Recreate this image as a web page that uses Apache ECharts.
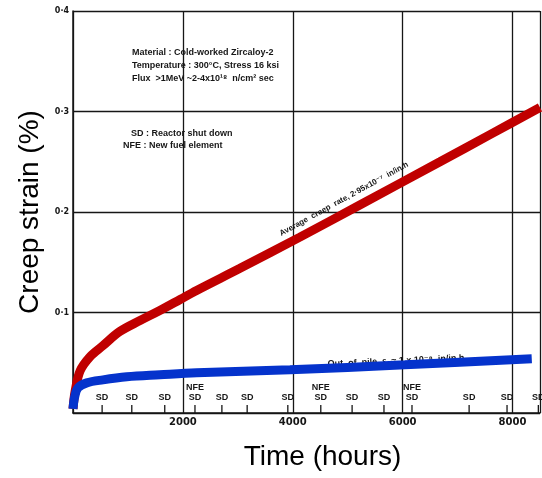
<!DOCTYPE html>
<html>
<head>
<meta charset="utf-8">
<script src="https://cdn.jsdelivr.net/npm/echarts@6/dist/echarts.min.js"></script>
<style>
  html, body { margin: 0; padding: 0; background: #fff; }
  #chart { width: 542px; height: 478px; }
</style>
</head>
<body>
<div id="chart"></div>
<script>
// irradiation creep (hours, % strain)
var inPileCreep = [
  [0, 0.004], [40, 0.022], [130, 0.042], [310, 0.056], [545, 0.067],
  [850, 0.081], [1220, 0.092], [1580, 0.102], [1950, 0.113], [2250, 0.122],
  [3040, 0.144], [4130, 0.175], [5220, 0.207], [6680, 0.250], [7590, 0.277],
  [8500, 0.304]
];
var outOfPileCreep = [
  [0, 0.004], [30, 0.016], [90, 0.025], [250, 0.030], [545, 0.033],
  [980, 0.036], [1580, 0.038], [2250, 0.040], [3950, 0.043], [6040, 0.048],
  [8350, 0.054]
];
// reactor events along the time axis
var sdHours = [530, 1070, 1670, 2220, 2710, 3170, 3910, 4510, 5080, 5660, 6170, 7210, 7900, 8470];
var nfeHours = [2220, 4510, 6170];

var xTicks = [2000, 4000, 6000, 8000];
var yTicks = [0.1, 0.2, 0.3, 0.4];

var ink = '#161616';
var noteFont = 'bold 9px "Liberation Sans", "DejaVu Sans", sans-serif';

var myChart = echarts.init(document.getElementById('chart'));

var option = {
  animation: false,
  backgroundColor: '#fff',
  grid: {
    left: 73, right: 2, top: 11, bottom: 65,
    outerBoundsMode: 'none'
  },
  xAxis: {
    type: 'value',
    min: 0, max: 8500, interval: 2000,
    name: 'Time (hours)',
    nameLocation: 'middle',
    nameGap: 30,
    nameTextStyle: {
      fontFamily: 'Liberation Sans, Arial, sans-serif',
      fontSize: 28, color: '#000',
      padding: [0, 0, 0, 32]
    },
    axisLine: { show: true, lineStyle: { color: ink, width: 1.5 } },
    axisTick: { show: false },
    axisLabel: {
      margin: 4,
      color: ink,
      fontFamily: 'DejaVu Sans, sans-serif',
      fontWeight: 'bold',
      fontSize: 10,
      formatter: function (v) {
        return xTicks.indexOf(v) >= 0 ? String(v) : '';
      }
    },
    splitLine: { show: true, lineStyle: { color: ink, width: 1.3 } }
  },
  yAxis: {
    type: 'value',
    min: 0, max: 0.4, interval: 0.1,
    name: 'Creep strain (%)',
    nameLocation: 'middle',
    nameGap: 27,
    nameTextStyle: {
      fontFamily: 'Liberation Sans, Arial, sans-serif',
      fontSize: 28, color: '#000'
    },
    axisLine: { show: true, lineStyle: { color: ink, width: 1.5 } },
    axisTick: { show: false },
    axisLabel: {
      margin: 4,
      color: ink,
      fontFamily: 'DejaVu Sans, sans-serif',
      fontWeight: 'bold',
      fontSize: 8,
      formatter: function (v) {
        var hit = yTicks.filter(function (t) { return Math.abs(t - v) < 1e-9; });
        return hit.length ? hit[0].toFixed(1).replace('.', '·') : '';
      }
    },
    splitLine: { show: true, lineStyle: { color: ink, width: 1.3 } }
  },
  graphic: [
    { type: 'text', left: 132, top: 48, style: { text: 'Material : Cold-worked Zircaloy-2', font: noteFont, fill: ink } },
    { type: 'text', left: 132, top: 61, style: { text: 'Temperature : 300°C, Stress 16 ksi', font: noteFont, fill: ink } },
    { type: 'text', left: 132, top: 74, style: { text: 'Flux  >1MeV ~2-4x10¹⁸  n/cm² sec', font: noteFont, fill: ink } },
    { type: 'text', left: 131, top: 129, style: { text: 'SD : Reactor shut down', font: noteFont, fill: ink } },
    { type: 'text', left: 123, top: 141, style: { text: 'NFE : New fuel element', font: noteFont, fill: ink } },
    {
      type: 'text', x: 344, y: 199, rotation: 28.8 * Math.PI / 180,
      style: {
        text: 'Average  creep  rate, 2·95x10⁻⁷  in/in.h',
        font: 'bold 8px "Liberation Sans", "DejaVu Sans", sans-serif',
        fill: ink, align: 'center', verticalAlign: 'middle'
      }
    },
    {
      type: 'text', x: 396, y: 361, rotation: 2.6 * Math.PI / 180,
      style: {
        text: 'Out  of  pile  ε, ≈ 1 x 10⁻⁸  in/in.h',
        font: noteFont, fill: ink, align: 'center', verticalAlign: 'middle'
      }
    }
  ],
  series: [
    {
      name: 'SD / NFE',
      type: 'custom',
      clip: false,
      z: 3,
      data: sdHours.map(function (h) { return [h]; }),
      renderItem: function (params, api) {
        var h = api.value(0);
        var p = api.coord([h, 0]);
        var kids = [
          { type: 'line', shape: { x1: p[0], y1: p[1], x2: p[0], y2: p[1] - 8 },
            style: { stroke: ink, lineWidth: 1.3 } },
          { type: 'text', x: p[0], y: p[1] - 15,
            style: { text: 'SD', font: noteFont, fill: ink, align: 'center', verticalAlign: 'middle' } }
        ];
        if (nfeHours.indexOf(h) >= 0) {
          kids.push({ type: 'text', x: p[0], y: p[1] - 25,
            style: { text: 'NFE', font: noteFont, fill: ink, align: 'center', verticalAlign: 'middle' } });
        }
        return { type: 'group', children: kids };
      }
    },
    {
      name: 'In-pile creep',
      type: 'line',
      data: inPileCreep,
      smooth: 0.35,
      showSymbol: false,
      z: 5,
      lineStyle: { color: '#c00000', width: 9 }
    },
    {
      name: 'Out-of-pile creep',
      type: 'line',
      data: outOfPileCreep,
      smooth: 0.35,
      showSymbol: false,
      z: 5,
      lineStyle: { color: '#0533cc', width: 9 }
    }
  ]
};
myChart.setOption(option);
</script>
</body>
</html>
